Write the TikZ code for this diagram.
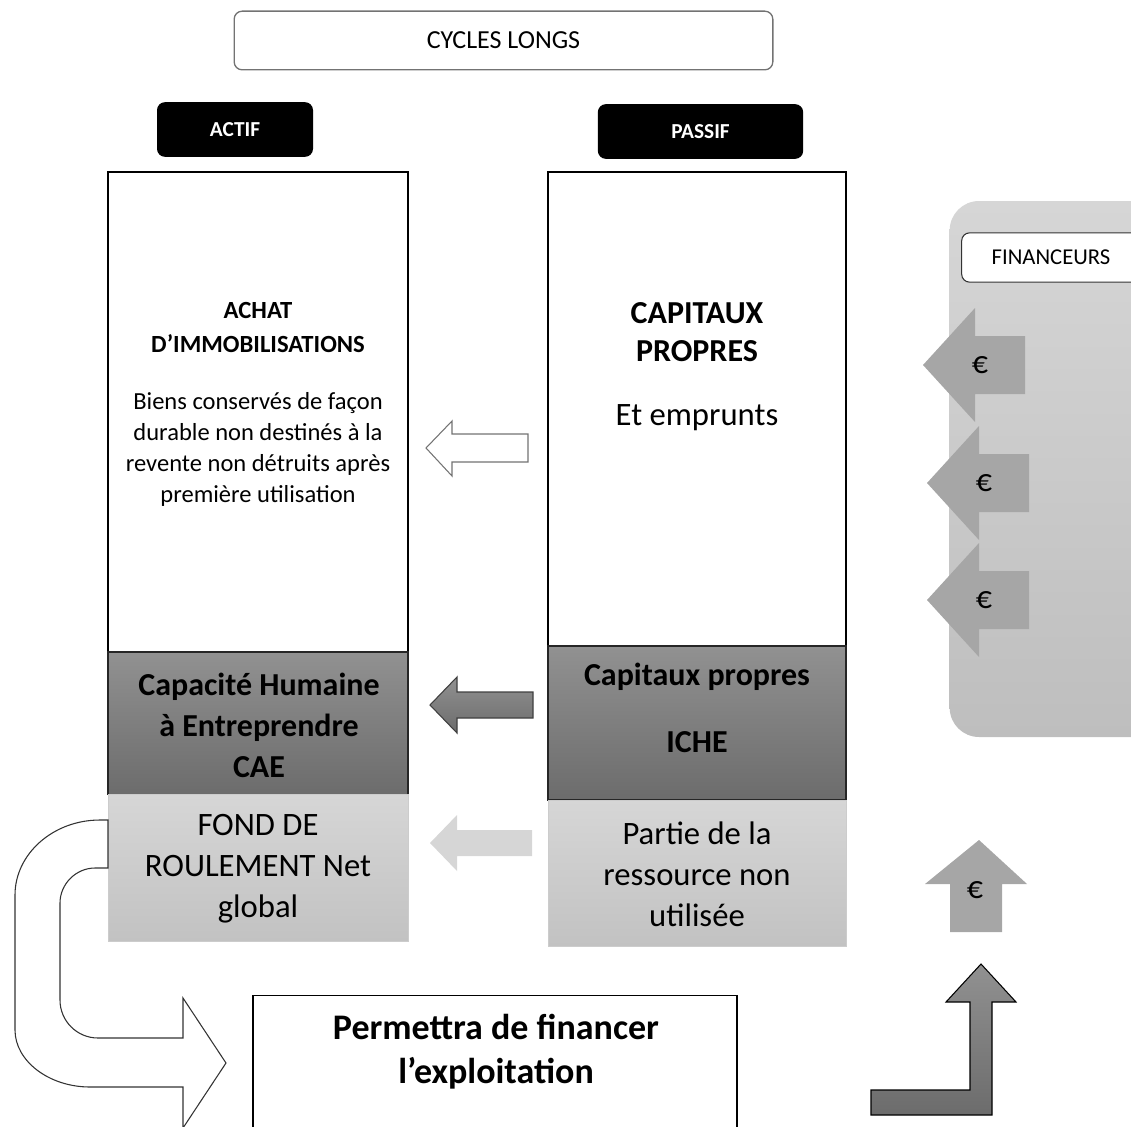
\documentclass[tikz,border=0pt]{standalone}
\usepackage{fontspec}
\setmainfont{Carlito}
\usetikzlibrary{positioning}
\definecolor{panelTop}{RGB}{214,214,214}
\definecolor{panelBottom}{RGB}{190,190,190}
\definecolor{darkTop}{RGB}{145,145,145}
\definecolor{darkBottom}{RGB}{108,108,108}
\definecolor{lightTop}{RGB}{214,214,214}
\definecolor{lightBottom}{RGB}{194,194,194}
\definecolor{euroGrey}{RGB}{166,166,166}

\begin{document}
\begin{tikzpicture}[x=0.75pt,y=-0.75pt,
    every node/.style={inner sep=0pt,outer sep=0pt},
    whiteCol/.style={draw=black,line width=1pt,fill=white},
    darkCol/.style={draw=black!85,line width=1pt,top color=darkTop,bottom color=darkBottom},
    lightCol/.style={draw=black!20,line width=0.6pt,top color=lightTop,bottom color=lightBottom},
    headBox/.style={fill=black,rounded corners=6pt,text=white,font=\fontsize{16}{19}\selectfont\bfseries},
    bigText/.style={align=center,font=\fontsize{24}{30.75}\selectfont\bfseries},
    plainText/.style={align=center,font=\fontsize{24.5}{30.75}\selectfont},
    euroText/.style={font=\fontsize{24}{26}\selectfont}]
    \useasboundingbox (0,0) rectangle (1131,1127);
    \clip (0,0) rectangle (1131,1127);

    % titre et en-tetes
    \node[draw=black!55,line width=1pt,fill=white,rounded corners=6pt,
      minimum width=404pt,minimum height=44pt,font=\fontsize{19.5}{22}\selectfont]
      (cycles) at (503.5,40.5) {CYCLES LONGS};
    \node[headBox,minimum width=117pt,minimum height=41pt] (actif) at (235,129.5) {ACTIF};
    \node[headBox,minimum width=154pt,minimum height=41pt] (passif) at (700.5,131.5) {PASSIF};

    % colonne actif
    \node[whiteCol,minimum width=225pt,minimum height=360pt] (achat) at (258,412) {};
    \node[darkCol,minimum width=225pt,minimum height=107pt,below=0pt of achat] (cae) {};
    \node[lightCol,minimum width=225pt,minimum height=110pt,below=0pt of cae] (fdr) {};

    % colonne passif
    \node[whiteCol,minimum width=223.5pt,minimum height=355.5pt] (capitaux) at (697,409) {};
    \node[darkCol,minimum width=223.5pt,minimum height=115.5pt,below=0pt of capitaux] (iche) {};
    \node[lightCol,minimum width=223.5pt,minimum height=110pt,below=0pt of iche] (ressource) {};

    % textes des blocs
    \node[align=center,font=\fontsize{18.5}{25.5}\selectfont\bfseries] (achatTitle) at (258,327)
      {ACHAT\\D’IMMOBILISATIONS};
    \node[align=center,font=\fontsize{18.4}{23.25}\selectfont] (achatText) at (258,449)
      {Biens conservés de façon\\durable non destinés à la\\revente non détruits après\\première utilisation};
    \node[align=center,font=\fontsize{24}{29}\selectfont\bfseries] (capTitle) at (697,332)
      {CAPITAUX\\PROPRES};
    \node[plainText] (emprunts) at (697,418) {Et emprunts};
    \node[bigText] (caeText) at (259,725) {Capacité Humaine\\à Entreprendre\\CAE};
    \node[bigText] (cpText) at (697,677) {Capitaux propres};
    \node[bigText] (icheText) at (697,742) {ICHE};
    \node[plainText] (fdrText) at (258,869) {FOND DE\\ROULEMENT Net\\global};
    \node[plainText] (resText) at (697,874) {Partie de la\\ressource non\\utilisée};

    % fleches du passif vers l'actif
    \draw[line width=0.8pt,draw=black!55,fill=white]
      (426,448) -- (452,421) -- (452,434) -- (528,434) -- (528,462) -- (452,462) -- (452,476) -- cycle;
    \draw[line width=0.8pt,draw=black!75,top color=darkTop,bottom color=darkBottom]
      (430,705) -- (457,677) -- (457,692) -- (533,692) -- (533,718) -- (457,718) -- (457,733) -- cycle;
    \fill[lightTop]
      (430,843) -- (457,815) -- (457,830) -- (532,830) -- (532,856) -- (457,856) -- (457,871) -- cycle;

    % financeurs
    \node[top color=panelTop,bottom color=panelBottom,rounded corners=22pt,
      minimum width=158pt,minimum height=402pt] (panel) at (1055,469) {};
    \node[draw=black!80,line width=0.8pt,fill=white,rounded corners=6pt,
      minimum width=134pt,minimum height=37pt,font=\fontsize{17}{20}\selectfont]
      (financeurs) at (1051,257.5) {FINANCEURS};
    \foreach \tip/\y in {923/365,927/483,927/600}{
       \fill[euroGrey] (\tip,\y) -- (\tip+52,\y-57) -- (\tip+52,\y-29) -- (\tip+102,\y-29)
         -- (\tip+102,\y+29) -- (\tip+52,\y+29) -- (\tip+52,\y+57) -- cycle;
       \node[euroText] (euro\y) at (\tip+57,\y) {€};
     }

    % retour vers les financeurs
    \fill[euroGrey] (979,840) -- (1027,884) -- (1002,884) -- (1002,932) -- (950,932)
      -- (950,884) -- (925,884) -- cycle;
    \node[euroText] (euroUp) at (975,890) {€};
    \draw[line width=0.8pt,top color=darkTop,bottom color=darkBottom]
      (871,1090) -- (970,1090) -- (970,1002) -- (946,1002) -- (981,964) -- (1016,1002)
      -- (992,1002) -- (992,1115) -- (871,1115) -- cycle;

    % exploitation
    \node[draw=black,line width=1pt,fill=white,minimum width=363pt,minimum height=112pt]
      (exploit) at (495,1070) {};
    \node[align=center,font=\fontsize{27}{33}\selectfont\bfseries] (exploitText) at (496,1052)
      {Permettra de financer\\l’exploitation};

    % fleche en U du fonds de roulement
    \draw[line width=0.8pt,draw=black!80,fill=white]
      (fdr.west |- 0,820) -- (100,820) .. controls (53,820) and (15,854) .. (15,895)
      -- (15,1030) .. controls (15,1061) and (49,1087) .. (90,1087)
      -- (183,1087) -- (183,1128) -- (226,1063) -- (183,998) -- (183,1038)
      -- (98,1038) .. controls (77,1038) and (60,1021) .. (60,1000)
      -- (60,903) .. controls (60,884) and (76,868) .. (95,868)
      -- (fdr.west |- 0,868) -- cycle;
\end{tikzpicture}
\end{document}
